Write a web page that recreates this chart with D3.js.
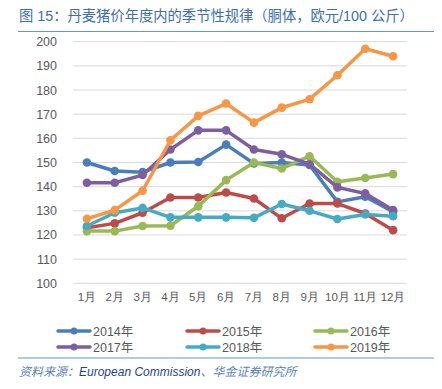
<!DOCTYPE html>
<html>
<head>
<meta charset="utf-8">
<script src="https://cdn.jsdelivr.net/npm/d3@7"></script>
<style>
  body { margin: 0; background: #fff; }
  svg { display: block; font-family: "Liberation Sans", "Noto Sans CJK SC", sans-serif; }
</style>
</head>
<body>
<div id="chart"></div>
<script>
const months = ["1月", "2月", "3月", "4月", "5月", "6月", "7月", "8月", "9月", "10月", "11月", "12月"];
const yTicks = [100, 110, 120, 130, 140, 150, 160, 170, 180, 190, 200];

const years = ["2014年", "2015年", "2016年", "2017年", "2018年", "2019年"];
const v2014 = [150, 146.5, 146, 150, 150.2, 157.4, 149.6, 150, 149, 133.7, 135.8, 129.6];
const v2015 = [123, 124.8, 129.2, 135.5, 135.5, 137.6, 135.1, 126.9, 133, 133, 128.9, 122];
const v2016 = [121.6, 121.6, 123.7, 123.8, 131.9, 142.7, 150, 147.5, 152.6, 142, 143.6, 145.2];
const v2017 = [141.6, 141.6, 144.8, 155.4, 163.3, 163.3, 155.4, 153.4, 149.3, 139.7, 137.2, 130.3];
const v2018 = [123.7, 129.2, 131.2, 127.3, 127.3, 127.3, 127.1, 132.8, 130, 126.6, 128.5, 127.8];
const v2019 = [126.7, 130.3, 138.3, 159.2, 169.3, 174.4, 166.5, 172.7, 176.2, 186.1, 197.1, 194];

const seriesData = [v2014, v2015, v2016, v2017, v2018, v2019];
const colors = ["#4a7ebb", "#be4b48", "#98b954", "#7d5fa0", "#46aac5", "#f79646"];

const W = 442, H = 389;
const plot = { left: 73, right: 407, top: 41.7, bottom: 283.3 };

const svg = d3.select("#chart").append("svg")
  .attr("width", W)
  .attr("height", H);

// title
svg.append("text")
  .attr("x", 19)
  .attr("y", 21)
  .attr("fill", "#3c6fb0")
  .style("font-size", "14.3px")
  .text("图 15：丹麦猪价年度内的季节性规律（胴体，欧元/100 公斤）");

svg.append("line")
  .attr("x1", 18).attr("x2", 434)
  .attr("y1", 31.5).attr("y2", 31.5)
  .attr("stroke", "#5b9bd5").attr("stroke-width", 1.2);

const x = d3.scaleBand()
  .domain(months)
  .range([plot.left, plot.right]);

const y = d3.scaleLinear()
  .domain([100, 200])
  .range([plot.bottom, plot.top]);

// grid
svg.append("g")
  .selectAll("line")
  .data(yTicks)
  .join("line")
  .attr("x1", plot.left)
  .attr("x2", plot.right)
  .attr("y1", d => y(d))
  .attr("y2", d => y(d))
  .attr("stroke", "#d9d9d9")
  .attr("stroke-width", 1);

// y axis
const yAxis = d3.axisLeft(y).tickValues(yTicks).tickSize(0).tickPadding(16);
svg.append("g")
  .attr("transform", "translate(" + plot.left + ",0)")
  .call(yAxis)
  .call(g => g.select(".domain").remove())
  .selectAll("text")
  .attr("fill", "#595959")
  .style("font-size", "12.5px");

// x axis
const xAxis = d3.axisBottom(x).tickSize(0).tickPadding(10);
svg.append("g")
  .attr("transform", "translate(0," + plot.bottom + ")")
  .call(xAxis)
  .call(g => g.select(".domain").remove())
  .selectAll("text")
  .attr("fill", "#595959")
  .style("font-size", "11.5px");

const line = d3.line()
  .x((d, i) => x(months[i]) + x.bandwidth() / 2)
  .y(d => y(d));

seriesData.forEach((vals, k) => {
  const g = svg.append("g");
  g.append("path")
    .datum(vals)
    .attr("d", line)
    .attr("fill", "none")
    .attr("stroke", colors[k])
    .attr("stroke-width", 3.5)
    .attr("stroke-linejoin", "round");
  g.selectAll("circle")
    .data(vals)
    .join("circle")
    .attr("cx", (d, i) => x(months[i]) + x.bandwidth() / 2)
    .attr("cy", d => y(d))
    .attr("r", 4.3)
    .attr("fill", colors[k]);
});

// legend
const legX = [58, 187, 315];
const legY = [331, 347];
const legend = svg.append("g");
years.forEach((yr, k) => {
  const lx = legX[k % 3], ly = legY[Math.floor(k / 3)];
  legend.append("line")
    .attr("x1", lx).attr("x2", lx + 32)
    .attr("y1", ly).attr("y2", ly)
    .attr("stroke", colors[k]).attr("stroke-width", 3.5)
    .attr("stroke-linecap", "round");
  legend.append("circle")
    .attr("cx", lx + 16).attr("cy", ly).attr("r", 3.5)
    .attr("fill", colors[k]);
  legend.append("text")
    .attr("x", lx + 35).attr("y", ly + 4.5)
    .attr("fill", "#595959")
    .style("font-size", "12.5px")
    .text(yr);
});

svg.append("line")
  .attr("x1", 18).attr("x2", 434)
  .attr("y1", 358).attr("y2", 358)
  .attr("stroke", "#5b9bd5").attr("stroke-width", 1.2);

const src = svg.append("text")
  .attr("x", 19)
  .attr("y", 376)
  .style("font-size", "12px")
  .style("font-style", "italic");
src.append("tspan").attr("fill", "#5b82b8").text("资料来源：");
src.append("tspan").attr("fill", "#1f3f8f").text("European Commission");
src.append("tspan").attr("fill", "#5b82b8").text("、华金证券研究所");
</script>
</body>
</html>
